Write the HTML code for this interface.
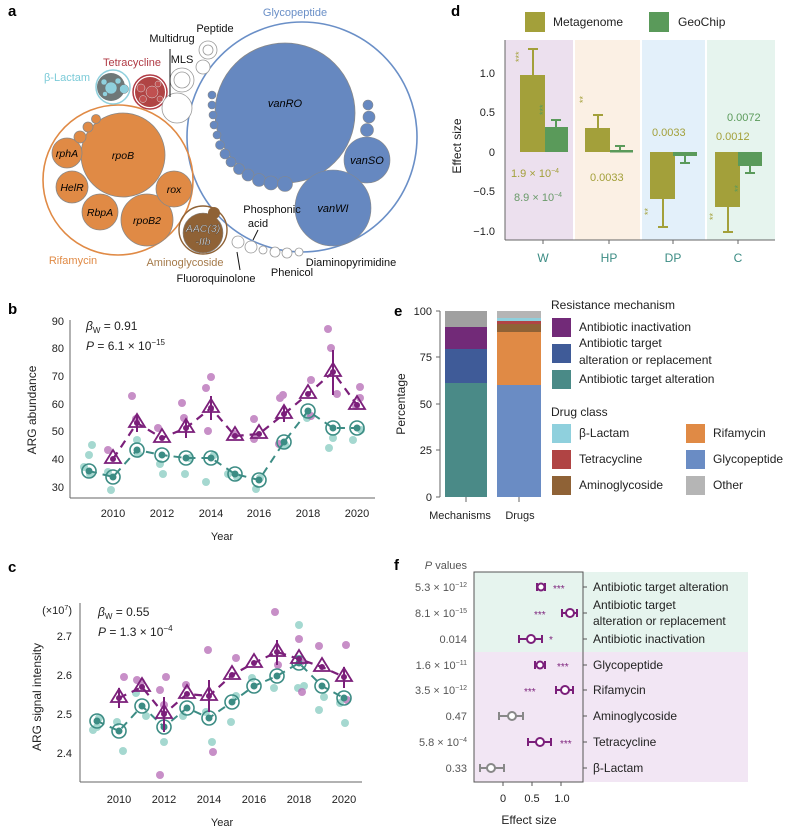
<!DOCTYPE html>
<html><head><meta charset="utf-8"><style>
body{margin:0;background:#fff}
svg{display:block;font-family:"Liberation Sans",sans-serif}
</style></head><body>
<svg width="798" height="833" viewBox="0 0 798 833" xmlns="http://www.w3.org/2000/svg">
<!-- panel letters -->
<g font-weight="bold" font-size="15" fill="#000">
<text x="8" y="16">a</text><text x="8" y="314">b</text><text x="8" y="572">c</text>
<text x="451" y="16">d</text><text x="394" y="316">e</text><text x="394" y="570">f</text>
</g>

<!-- ===== Panel a ===== -->
<g>
<circle cx="302" cy="137" r="115" fill="none" stroke="#6a8fc7" stroke-width="1.6"/>
<circle cx="285" cy="113" r="70" fill="#6688c0" stroke="#888" stroke-width="0.8"/>
<g fill="#6688c0" stroke="#888" stroke-width="0.6">
<circle cx="212" cy="95" r="4"/><circle cx="212" cy="105" r="4"/><circle cx="213" cy="115" r="4"/><circle cx="214" cy="125" r="4"/><circle cx="217" cy="135" r="4"/><circle cx="220" cy="145" r="4.5"/><circle cx="225" cy="154" r="5"/><circle cx="231" cy="162" r="5"/><circle cx="239" cy="169" r="5.5"/><circle cx="248" cy="175" r="6"/><circle cx="259" cy="180" r="6.5"/><circle cx="271" cy="183" r="7"/><circle cx="285" cy="184" r="7.5"/>
<circle cx="368" cy="105" r="5"/><circle cx="369" cy="117" r="6"/><circle cx="367" cy="130" r="6.5"/>
<circle cx="367" cy="160" r="23"/><circle cx="333" cy="208" r="38"/>
</g>
<text x="285" y="107" font-size="11" font-style="italic" text-anchor="middle">vanRO</text>
<text x="367" y="164" font-size="11" font-style="italic" text-anchor="middle">vanSO</text>
<text x="333" y="212" font-size="11" font-style="italic" text-anchor="middle">vanWI</text>
<text x="295" y="16" font-size="11" fill="#6a8fc7" text-anchor="middle">Glycopeptide</text>

<circle cx="118" cy="180" r="75" fill="none" stroke="#e08a45" stroke-width="1.6"/>
<g fill="#e08a45" stroke="#888" stroke-width="0.8">
<circle cx="123" cy="155" r="42"/><circle cx="67" cy="153" r="15"/><circle cx="72" cy="187" r="16"/><circle cx="100" cy="212" r="18"/><circle cx="147" cy="220" r="26"/><circle cx="174" cy="189" r="18"/>
<circle cx="80" cy="137" r="6"/><circle cx="88" cy="127" r="5"/><circle cx="96" cy="119" r="4.5"/>
</g>
<g font-size="10.5" font-style="italic" text-anchor="middle">
<text x="123" y="159">rpoB</text><text x="67" y="157">rphA</text><text x="72" y="191">HelR</text><text x="100" y="216">RbpA</text><text x="147" y="224">rpoB2</text><text x="174" y="193">rox</text>
</g>
<text x="73" y="264" font-size="11" fill="#e08a45" text-anchor="middle">Rifamycin</text>

<circle cx="113" cy="87" r="17" fill="none" stroke="#8fd0dd" stroke-width="1.5"/>
<circle cx="111" cy="87" r="14" fill="#6e7878"/>
<g fill="#8fd0dd" stroke="#666" stroke-width="0.4"><circle cx="111" cy="88" r="6"/><circle cx="124" cy="89" r="4.5"/><circle cx="104" cy="82" r="3"/><circle cx="118" cy="81" r="3"/><circle cx="105" cy="94" r="2.5"/></g>
<circle cx="150" cy="92" r="17" fill="none" stroke="#b03a44" stroke-width="1.5"/>
<circle cx="150" cy="92" r="15" fill="#b04444"/>
<g fill="#c05050" stroke="#ddd" stroke-width="0.5"><circle cx="152" cy="92" r="6"/><circle cx="141" cy="88" r="4"/><circle cx="143" cy="99" r="3.5"/><circle cx="158" cy="84" r="3"/><circle cx="160" cy="99" r="3"/></g>

<g fill="#fff" stroke="#999" stroke-width="0.8">
<circle cx="177" cy="108" r="15"/><circle cx="182" cy="80" r="12"/><circle cx="203" cy="67" r="7"/><circle cx="208" cy="50" r="9"/>
<circle cx="182" cy="80" r="8"/><circle cx="208" cy="50" r="5"/>
<circle cx="238" cy="242" r="6"/><circle cx="251" cy="247" r="6"/><circle cx="263" cy="250" r="4"/><circle cx="275" cy="252" r="5"/><circle cx="287" cy="253" r="5"/><circle cx="299" cy="252" r="4"/>
</g>
<circle cx="203" cy="230" r="24" fill="none" stroke="#8f6236" stroke-width="1.4"/>
<circle cx="203" cy="233" r="20" fill="#8f6236" stroke="#888" stroke-width="0.6"/>
<circle cx="214" cy="213" r="6" fill="#8f6236"/>
<text x="203" y="232" font-size="10.5" font-style="italic" text-anchor="middle" fill="#eee" stroke="#333" stroke-width="0.3">AAC(3)</text>
<text x="203" y="245" font-size="10.5" font-style="italic" text-anchor="middle" fill="#eee" stroke="#333" stroke-width="0.3">-IIb</text>
<text x="185" y="266" font-size="11" fill="#a57a4a" text-anchor="middle">Aminoglycoside</text>
<g font-size="11" fill="#111">
<text x="215" y="32" text-anchor="middle">Peptide</text>
<text x="172" y="42" text-anchor="middle">Multidrug</text>
<text x="182" y="63" text-anchor="middle">MLS</text>
<text x="272" y="213" text-anchor="middle">Phosphonic</text>
<text x="258" y="227" text-anchor="middle">acid</text>
<text x="216" y="282" text-anchor="middle">Fluoroquinolone</text>
<text x="292" y="276" text-anchor="middle">Phenicol</text>
<text x="351" y="266" text-anchor="middle">Diaminopyrimidine</text>
</g>
<text x="132" y="66" font-size="11" fill="#b03a44" text-anchor="middle">Tetracycline</text>
<text x="67" y="81" font-size="11" fill="#7ccbd8" text-anchor="middle">β-Lactam</text>
<g stroke="#111" stroke-width="1"><line x1="170" y1="49" x2="170" y2="97"/><line x1="237" y1="252" x2="240" y2="270"/><line x1="258" y1="230" x2="253" y2="240"/></g>
</g>

<!-- ===== Panel b ===== -->
<g font-size="11" fill="#222">
<line x1="70" y1="320" x2="70" y2="498" stroke="#666"/>
<line x1="70" y1="498" x2="375" y2="498" stroke="#666"/>
<g text-anchor="end">
<text x="64" y="325">90</text><text x="64" y="352">80</text><text x="64" y="380">70</text><text x="64" y="408">60</text><text x="64" y="435">50</text><text x="64" y="463">40</text><text x="64" y="491">30</text>
</g>
<g text-anchor="middle">
<text x="113" y="517">2010</text><text x="162" y="517">2012</text><text x="211" y="517">2014</text><text x="259" y="517">2016</text><text x="308" y="517">2018</text><text x="357" y="517">2020</text>
<text x="222" y="540">Year</text>
</g>
<text transform="translate(36,410) rotate(-90)" text-anchor="middle" font-size="12">ARG abundance</text>
<text x="86" y="330" font-size="12"><tspan font-style="italic">β</tspan><tspan font-size="8" dy="3">W</tspan><tspan dy="-3"> = 0.91</tspan></text>
<text x="86" y="350" font-size="12"><tspan font-style="italic">P</tspan> = 6.1 × 10<tspan font-size="8" dy="-5">−15</tspan></text>
</g>
<g fill="#8fcfc5" opacity="0.8">
<circle cx="84" cy="467" r="4"/><circle cx="92" cy="445" r="4"/><circle cx="90" cy="474" r="4"/><circle cx="89" cy="455" r="4"/><circle cx="111" cy="490" r="4"/><circle cx="108" cy="472" r="4"/><circle cx="138" cy="454" r="4"/><circle cx="160" cy="464" r="4"/><circle cx="163" cy="474" r="4"/><circle cx="185" cy="474" r="4"/><circle cx="190" cy="458" r="4"/><circle cx="206" cy="482" r="4"/><circle cx="214" cy="455" r="4"/><circle cx="228" cy="474" r="4"/><circle cx="237" cy="477" r="4"/><circle cx="256" cy="489" r="4"/><circle cx="260" cy="478" r="4"/><circle cx="285" cy="445" r="4"/><circle cx="307" cy="418" r="4"/><circle cx="329" cy="448" r="4"/><circle cx="333" cy="438" r="4"/><circle cx="353" cy="440" r="4"/><circle cx="361" cy="430" r="4"/><circle cx="137" cy="440" r="4"/></g>
<g fill="#b56ab5" opacity="0.75">
<circle cx="108" cy="450" r="4"/><circle cx="132" cy="396" r="4"/><circle cx="136" cy="419" r="4"/><circle cx="158" cy="428" r="4"/><circle cx="184" cy="418" r="4"/><circle cx="182" cy="403" r="4"/><circle cx="206" cy="388" r="4"/><circle cx="211" cy="377" r="4"/><circle cx="208" cy="431" r="4"/><circle cx="234" cy="434" r="4"/><circle cx="254" cy="419" r="4"/><circle cx="254" cy="439" r="4"/><circle cx="280" cy="398" r="4"/><circle cx="283" cy="395" r="4"/><circle cx="279" cy="444" r="4"/><circle cx="311" cy="380" r="4"/><circle cx="311" cy="416" r="4"/><circle cx="328" cy="329" r="4"/><circle cx="331" cy="348" r="4"/><circle cx="337" cy="394" r="4"/><circle cx="356" cy="406" r="4"/><circle cx="360" cy="387" r="4"/><circle cx="360" cy="398" r="4"/></g>
<polyline fill="none" stroke="#3c8c84" stroke-width="2" stroke-dasharray="8,6" points="89,471 113,477 137,450 162,455 186,458 211,458 235,474 259,480 284,442 308,411 333,428 357,428"/>
<polyline fill="none" stroke="#7b1f7a" stroke-width="2.2" stroke-dasharray="8,6" points="113,459 137,423 162,438 186,428 211,408 235,436 259,434 284,414 308,394 333,372 357,405"/>
<g fill="none" stroke="#3c8c84" stroke-width="1.6">
<circle cx="89" cy="471" r="7"/><circle cx="113" cy="477" r="7"/><circle cx="137" cy="450" r="7"/><circle cx="162" cy="455" r="7"/><circle cx="186" cy="458" r="7"/><circle cx="211" cy="458" r="7"/><circle cx="235" cy="474" r="7"/><circle cx="259" cy="480" r="7"/><circle cx="284" cy="442" r="7"/><circle cx="308" cy="411" r="7"/><circle cx="333" cy="428" r="7"/><circle cx="357" cy="428" r="7"/></g>
<g fill="#3c8c84"><circle cx="89" cy="471" r="3.5"/><circle cx="113" cy="477" r="3.5"/><circle cx="137" cy="450" r="3.5"/><circle cx="162" cy="455" r="3.5"/><circle cx="186" cy="458" r="3.5"/><circle cx="211" cy="458" r="3.5"/><circle cx="235" cy="474" r="3.5"/><circle cx="259" cy="480" r="3.5"/><circle cx="284" cy="442" r="3.5"/><circle cx="308" cy="411" r="3.5"/><circle cx="333" cy="428" r="3.5"/><circle cx="357" cy="428" r="3.5"/></g>
<g stroke="#7b1f7a" stroke-width="2"><line x1="137" y1="414" x2="137" y2="432"/><line x1="211" y1="396" x2="211" y2="420"/><line x1="333" y1="350" x2="333" y2="395"/><line x1="186" y1="420" x2="186" y2="438"/><line x1="284" y1="405" x2="284" y2="422"/></g>
<g fill="none" stroke="#7b1f7a" stroke-width="1.8">
<path d="M113,450 l8,13 h-16z"/><path d="M137,414 l8,13 h-16z"/><path d="M162,429 l8,13 h-16z"/><path d="M186,419 l8,13 h-16z"/><path d="M211,399 l8,13 h-16z"/><path d="M235,427 l8,13 h-16z"/><path d="M259,425 l8,13 h-16z"/><path d="M284,405 l8,13 h-16z"/><path d="M308,385 l8,13 h-16z"/><path d="M333,363 l8,13 h-16z"/><path d="M357,396 l8,13 h-16z"/></g>
<g fill="#7b1f7a"><circle cx="113" cy="459" r="3"/><circle cx="137" cy="423" r="3"/><circle cx="162" cy="438" r="3"/><circle cx="186" cy="428" r="3"/><circle cx="211" cy="408" r="3"/><circle cx="235" cy="436" r="3"/><circle cx="259" cy="434" r="3"/><circle cx="284" cy="414" r="3"/><circle cx="308" cy="394" r="3"/><circle cx="333" cy="372" r="3"/><circle cx="357" cy="405" r="3"/></g>

<!-- ===== Panel c ===== -->
<g font-size="11" fill="#222">
<line x1="80" y1="603" x2="80" y2="782" stroke="#666"/>
<line x1="80" y1="782" x2="362" y2="782" stroke="#666"/>
<g text-anchor="end">
<text x="72" y="614">(×10<tspan font-size="7" dy="-4">7</tspan><tspan dy="4">)</tspan></text>
<text x="72" y="640">2.7</text><text x="72" y="679">2.6</text><text x="72" y="718">2.5</text><text x="72" y="757">2.4</text>
</g>
<g text-anchor="middle">
<text x="119" y="803">2010</text><text x="164" y="803">2012</text><text x="209" y="803">2014</text><text x="254" y="803">2016</text><text x="299" y="803">2018</text><text x="344" y="803">2020</text>
<text x="222" y="826">Year</text>
</g>
<text transform="translate(41,697) rotate(-90)" text-anchor="middle" font-size="12">ARG signal intensity</text>
<text x="98" y="616" font-size="12"><tspan font-style="italic">β</tspan><tspan font-size="8" dy="3">W</tspan><tspan dy="-3"> = 0.55</tspan></text>
<text x="98" y="636" font-size="12"><tspan font-style="italic">P</tspan> = 1.3 × 10<tspan font-size="8" dy="-5">−4</tspan></text>
</g>
<g fill="#8fcfc5" opacity="0.8">
<circle cx="93" cy="730" r="4"/><circle cx="99" cy="718" r="4"/><circle cx="97" cy="727" r="4"/><circle cx="117" cy="722" r="4"/><circle cx="123" cy="751" r="4"/><circle cx="136" cy="693" r="4"/><circle cx="146" cy="716" r="4"/><circle cx="164" cy="742" r="4"/><circle cx="183" cy="716" r="4"/><circle cx="206" cy="712" r="4"/><circle cx="212" cy="742" r="4"/><circle cx="231" cy="722" r="4"/><circle cx="236" cy="696" r="4"/><circle cx="252" cy="678" r="4"/><circle cx="274" cy="688" r="4"/><circle cx="299" cy="625" r="4"/><circle cx="298" cy="688" r="4"/><circle cx="304" cy="686" r="4"/><circle cx="319" cy="710" r="4"/><circle cx="324" cy="697" r="4"/><circle cx="345" cy="723" r="4"/><circle cx="340" cy="703" r="4"/></g>
<g fill="#b56ab5" opacity="0.75">
<circle cx="124" cy="677" r="4"/><circle cx="137" cy="680" r="4"/><circle cx="141" cy="682" r="4"/><circle cx="160" cy="690" r="4"/><circle cx="164" cy="705" r="4"/><circle cx="166" cy="677" r="4"/><circle cx="160" cy="775" r="4"/><circle cx="186" cy="685" r="4"/><circle cx="208" cy="650" r="4"/><circle cx="213" cy="752" r="4"/><circle cx="236" cy="658" r="4"/><circle cx="275" cy="612" r="4"/><circle cx="278" cy="665" r="4"/><circle cx="299" cy="639" r="4"/><circle cx="302" cy="661" r="4"/><circle cx="302" cy="692" r="4"/><circle cx="319" cy="646" r="4"/><circle cx="346" cy="645" r="4"/><circle cx="347" cy="700" r="4"/></g>
<polyline fill="none" stroke="#3c8c84" stroke-width="2" stroke-dasharray="8,6" points="97,721 119,731 142,706 164,727 187,708 209,718 232,702 254,686 277,676 299,663 322,686 344,698"/>
<polyline fill="none" stroke="#7b1f7a" stroke-width="2.2" stroke-dasharray="8,6" points="119,698 142,687 164,714 187,694 209,696 232,675 254,663 277,652 299,659 322,667 344,677"/>
<g fill="none" stroke="#3c8c84" stroke-width="1.6">
<circle cx="97" cy="721" r="7"/><circle cx="119" cy="731" r="7"/><circle cx="142" cy="706" r="7"/><circle cx="164" cy="727" r="7"/><circle cx="187" cy="708" r="7"/><circle cx="209" cy="718" r="7"/><circle cx="232" cy="702" r="7"/><circle cx="254" cy="686" r="7"/><circle cx="277" cy="676" r="7"/><circle cx="299" cy="663" r="7"/><circle cx="322" cy="686" r="7"/><circle cx="344" cy="698" r="7"/></g>
<g fill="#3c8c84"><circle cx="97" cy="721" r="3.5"/><circle cx="119" cy="731" r="3.5"/><circle cx="142" cy="706" r="3.5"/><circle cx="164" cy="727" r="3.5"/><circle cx="187" cy="708" r="3.5"/><circle cx="209" cy="718" r="3.5"/><circle cx="232" cy="702" r="3.5"/><circle cx="254" cy="686" r="3.5"/><circle cx="277" cy="676" r="3.5"/><circle cx="299" cy="663" r="3.5"/><circle cx="322" cy="686" r="3.5"/><circle cx="344" cy="698" r="3.5"/></g>
<g stroke="#7b1f7a" stroke-width="2"><line x1="164" y1="697" x2="164" y2="732"/><line x1="209" y1="680" x2="209" y2="712"/><line x1="277" y1="640" x2="277" y2="665"/><line x1="119" y1="688" x2="119" y2="708"/><line x1="344" y1="667" x2="344" y2="688"/></g>
<g fill="none" stroke="#7b1f7a" stroke-width="1.8">
<path d="M119,689 l8,13 h-16z"/><path d="M142,678 l8,13 h-16z"/><path d="M164,705 l8,13 h-16z"/><path d="M187,685 l8,13 h-16z"/><path d="M209,687 l8,13 h-16z"/><path d="M232,666 l8,13 h-16z"/><path d="M254,654 l8,13 h-16z"/><path d="M277,643 l8,13 h-16z"/><path d="M299,650 l8,13 h-16z"/><path d="M322,658 l8,13 h-16z"/><path d="M344,668 l8,13 h-16z"/></g>
<g fill="#7b1f7a"><circle cx="119" cy="698" r="3"/><circle cx="142" cy="687" r="3"/><circle cx="164" cy="714" r="3"/><circle cx="187" cy="694" r="3"/><circle cx="209" cy="696" r="3"/><circle cx="232" cy="675" r="3"/><circle cx="254" cy="663" r="3"/><circle cx="277" cy="652" r="3"/><circle cx="299" cy="659" r="3"/><circle cx="322" cy="667" r="3"/><circle cx="344" cy="677" r="3"/></g>

<!-- ===== Panel d ===== -->
<rect x="505" y="40" width="68" height="200" fill="#ece0ee"/>
<rect x="575" y="40" width="65" height="200" fill="#fbf0e4"/>
<rect x="642" y="40" width="63" height="200" fill="#e3f0fa"/>
<rect x="707" y="40" width="68" height="200" fill="#e6f4ee"/>
<line x1="505" y1="40" x2="505" y2="240" stroke="#666"/>
<line x1="505" y1="240" x2="775" y2="240" stroke="#666"/>
<rect x="525" y="12" width="20" height="20" fill="#a3a03a"/>
<rect x="649" y="12" width="20" height="20" fill="#5a9a5a"/>
<g font-size="12" fill="#222"><text x="553" y="26">Metagenome</text><text x="678" y="26">GeoChip</text></g>
<g font-size="11" fill="#222" text-anchor="end">
<text x="495" y="77">1.0</text><text x="495" y="116">0.5</text><text x="495" y="156">0</text><text x="495" y="195">−0.5</text><text x="495" y="235">−1.0</text>
</g>
<text transform="translate(461,146) rotate(-90)" text-anchor="middle" font-size="12" fill="#222">Effect size</text>
<g font-size="12" fill="#3c8c84" text-anchor="middle"><text x="543" y="262">W</text><text x="609" y="262">HP</text><text x="673" y="262">DP</text><text x="738" y="262">C</text></g>
<g stroke="#666"><line x1="543" y1="240" x2="543" y2="244"/><line x1="609" y1="240" x2="609" y2="244"/><line x1="673" y1="240" x2="673" y2="244"/><line x1="738" y1="240" x2="738" y2="244"/></g>
<g fill="#a3a03a" stroke="#a3a03a" stroke-width="2">
<rect x="520" y="75" width="25" height="77" stroke="none"/><line x1="533" y1="75" x2="533" y2="49"/><line x1="528" y1="49" x2="538" y2="49"/>
<rect x="585" y="128" width="25" height="24" stroke="none"/><line x1="598" y1="128" x2="598" y2="115"/><line x1="593" y1="115" x2="603" y2="115"/>
<rect x="650" y="152" width="25" height="47" stroke="none"/><line x1="663" y1="199" x2="663" y2="227"/><line x1="658" y1="227" x2="668" y2="227"/>
<rect x="715" y="152" width="25" height="55" stroke="none"/><line x1="728" y1="207" x2="728" y2="232"/><line x1="723" y1="232" x2="733" y2="232"/>
</g>
<g fill="#5a9a5a" stroke="#5a9a5a" stroke-width="2">
<rect x="545" y="127" width="23" height="25" stroke="none"/><line x1="556" y1="127" x2="556" y2="120"/><line x1="551" y1="120" x2="561" y2="120"/>
<rect x="610" y="150" width="23" height="2.5" stroke="none"/><line x1="620" y1="150" x2="620" y2="146"/><line x1="615" y1="146" x2="625" y2="146"/>
<rect x="673" y="152" width="24" height="4" stroke="none"/><line x1="685" y1="156" x2="685" y2="163"/><line x1="680" y1="163" x2="690" y2="163"/>
<rect x="738" y="152" width="24" height="14" stroke="none"/><line x1="750" y1="166" x2="750" y2="173"/><line x1="745" y1="173" x2="755" y2="173"/>
</g>
<g font-size="9" fill="#a3a03a"><text transform="translate(522,62) rotate(-90)">***</text><text transform="translate(586,103) rotate(-90)">**</text><text transform="translate(651,215) rotate(-90)">**</text><text transform="translate(716,220) rotate(-90)">**</text></g>
<g font-size="9" fill="#5a9a5a"><text transform="translate(546,115) rotate(-90)">***</text><text transform="translate(741,192) rotate(-90)">**</text></g>
<g font-size="11"><text x="511" y="177" fill="#a3a03a">1.9 × 10<tspan font-size="7" dy="-4">−4</tspan></text>
<text x="514" y="201" fill="#6a9a6a">8.9 × 10<tspan font-size="7" dy="-4">−4</tspan></text>
<text x="590" y="181" fill="#a3a03a">0.0033</text><text x="652" y="136" fill="#a3a03a">0.0033</text>
<text x="727" y="121" fill="#5a9a5a">0.0072</text><text x="716" y="140" fill="#a3a03a">0.0012</text></g>

<!-- ===== Panel e ===== -->
<line x1="440" y1="311" x2="440" y2="497" stroke="#666"/>
<g stroke="#666"><line x1="436" y1="311" x2="440" y2="311"/><line x1="436" y1="357" x2="440" y2="357"/><line x1="436" y1="404" x2="440" y2="404"/><line x1="436" y1="450" x2="440" y2="450"/><line x1="436" y1="497" x2="440" y2="497"/><line x1="466" y1="497" x2="466" y2="502"/><line x1="519" y1="497" x2="519" y2="502"/></g>
<g font-size="11" fill="#222" text-anchor="end"><text x="432" y="315">100</text><text x="432" y="361">75</text><text x="432" y="408">50</text><text x="432" y="454">25</text><text x="432" y="501">0</text></g>
<text transform="translate(405,404) rotate(-90)" text-anchor="middle" font-size="12" fill="#222">Percentage</text>
<g font-size="11" fill="#222" text-anchor="middle"><text x="460" y="519">Mechanisms</text><text x="520" y="519">Drugs</text></g>
<rect x="445" y="383" width="42" height="114" fill="#4a8a87"/>
<rect x="445" y="349" width="42" height="34" fill="#3f5b98"/>
<rect x="445" y="327" width="42" height="22" fill="#722a78"/>
<rect x="445" y="311" width="42" height="16" fill="#a0a0a0"/>
<rect x="497" y="385" width="44" height="112" fill="#6a8cc4"/>
<rect x="497" y="332" width="44" height="53" fill="#e08a45"/>
<rect x="497" y="324" width="44" height="8" fill="#8f6236"/>
<rect x="497" y="321" width="44" height="3" fill="#b04444"/>
<rect x="497" y="318" width="44" height="3" fill="#8fd0dd"/>
<rect x="497" y="311" width="44" height="7" fill="#b5b5b5"/>
<g font-size="12" fill="#222">
<text x="551" y="309">Resistance mechanism</text>
<rect x="552" y="318" width="19" height="19" fill="#722a78"/><text x="579" y="331">Antibiotic inactivation</text>
<rect x="552" y="344" width="19" height="19" fill="#3f5b98"/><text x="579" y="347">Antibiotic target</text><text x="579" y="364">alteration or replacement</text>
<rect x="552" y="370" width="19" height="19" fill="#4a8a87"/><text x="579" y="383">Antibiotic target alteration</text>
<text x="551" y="416">Drug class</text>
<rect x="552" y="424" width="19" height="19" fill="#8fd0dd"/><text x="579" y="437">β-Lactam</text>
<rect x="552" y="450" width="19" height="19" fill="#b04444"/><text x="579" y="463">Tetracycline</text>
<rect x="552" y="476" width="19" height="19" fill="#8f6236"/><text x="579" y="489">Aminoglycoside</text>
<rect x="686" y="424" width="19" height="19" fill="#e08a45"/><text x="713" y="437">Rifamycin</text>
<rect x="686" y="450" width="19" height="19" fill="#6a8cc4"/><text x="713" y="463">Glycopeptide</text>
<rect x="686" y="476" width="19" height="19" fill="#b5b5b5"/><text x="713" y="489">Other</text>
</g>

<!-- ===== Panel f ===== -->
<rect x="474" y="572" width="274" height="80" fill="#e6f4ee"/>
<rect x="474" y="652" width="274" height="130" fill="#f2e6f4"/>
<rect x="474" y="572" width="109" height="210" fill="none" stroke="#555"/>
<g stroke="#555"><line x1="503" y1="782" x2="503" y2="786"/><line x1="532" y1="782" x2="532" y2="786"/><line x1="561" y1="782" x2="561" y2="786"/>
<line x1="583" y1="587" x2="587" y2="587"/><line x1="583" y1="613" x2="587" y2="613"/><line x1="583" y1="639" x2="587" y2="639"/><line x1="583" y1="665" x2="587" y2="665"/><line x1="583" y1="690" x2="587" y2="690"/><line x1="583" y1="716" x2="587" y2="716"/><line x1="583" y1="742" x2="587" y2="742"/><line x1="583" y1="768" x2="587" y2="768"/></g>
<g font-size="11" fill="#222" text-anchor="middle"><text x="503" y="802">0</text><text x="532" y="802">0.5</text><text x="562" y="802">1.0</text><text x="529" y="824" font-size="12">Effect size</text></g>
<g font-size="11" fill="#555" text-anchor="end">
<text x="467" y="569"><tspan font-style="italic">P</tspan> values</text>
<text x="467" y="591">5.3 × 10<tspan font-size="7" dy="-4">−12</tspan></text>
<text x="467" y="617">8.1 × 10<tspan font-size="7" dy="-4">−15</tspan></text>
<text x="467" y="643">0.014</text>
<text x="467" y="669">1.6 × 10<tspan font-size="7" dy="-4">−11</tspan></text>
<text x="467" y="694">3.5 × 10<tspan font-size="7" dy="-4">−12</tspan></text>
<text x="467" y="720">0.47</text>
<text x="467" y="746">5.8 × 10<tspan font-size="7" dy="-4">−4</tspan></text>
<text x="467" y="772">0.33</text>
</g>
<g font-size="12" fill="#222">
<text x="593" y="591">Antibiotic target alteration</text>
<text x="593" y="609">Antibiotic target</text><text x="593" y="625">alteration or replacement</text>
<text x="593" y="643">Antibiotic inactivation</text>
<text x="593" y="669">Glycopeptide</text>
<text x="593" y="694">Rifamycin</text>
<text x="593" y="720">Aminoglycoside</text>
<text x="593" y="746">Tetracycline</text>
<text x="593" y="772">β-Lactam</text>
</g>
<g stroke="#7b1f7a" stroke-width="2" fill="#fff">
<line x1="537" y1="587" x2="545" y2="587"/><line x1="537" y1="583" x2="537" y2="591"/><line x1="545" y1="583" x2="545" y2="591"/><circle cx="541" cy="587" r="3.5"/>
<line x1="562" y1="613" x2="577" y2="613"/><line x1="562" y1="609" x2="562" y2="617"/><line x1="577" y1="609" x2="577" y2="617"/><circle cx="570" cy="613" r="4"/>
<line x1="519" y1="639" x2="542" y2="639"/><line x1="519" y1="635" x2="519" y2="643"/><line x1="542" y1="635" x2="542" y2="643"/><circle cx="531" cy="639" r="4"/>
<line x1="535" y1="665" x2="545" y2="665"/><line x1="535" y1="661" x2="535" y2="669"/><line x1="545" y1="661" x2="545" y2="669"/><circle cx="540" cy="665" r="3.5"/>
<line x1="556" y1="690" x2="573" y2="690"/><line x1="556" y1="686" x2="556" y2="694"/><line x1="573" y1="686" x2="573" y2="694"/><circle cx="565" cy="690" r="4"/>
<line x1="528" y1="742" x2="551" y2="742"/><line x1="528" y1="738" x2="528" y2="746"/><line x1="551" y1="738" x2="551" y2="746"/><circle cx="540" cy="742" r="4"/>
</g>
<g stroke="#888" stroke-width="2" fill="#fff">
<line x1="499" y1="716" x2="523" y2="716"/><line x1="499" y1="712" x2="499" y2="720"/><line x1="523" y1="712" x2="523" y2="720"/><circle cx="512" cy="716" r="4"/>
<line x1="480" y1="768" x2="504" y2="768"/><line x1="480" y1="764" x2="480" y2="772"/><line x1="504" y1="764" x2="504" y2="772"/><circle cx="491" cy="768" r="4"/>
</g>
<g font-size="10" fill="#7b1f7a"><text x="553" y="592">***</text><text x="534" y="618">***</text><text x="549" y="643">*</text><text x="557" y="670">***</text><text x="524" y="695">***</text><text x="560" y="747">***</text></g>
</svg>
</body></html>
